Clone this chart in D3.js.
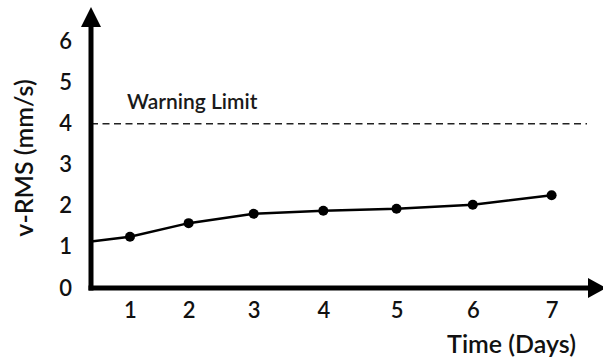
<!DOCTYPE html>
<html><head><meta charset="utf-8">
<script src="https://cdn.jsdelivr.net/npm/d3@7"></script>
<style>
html,body{margin:0;padding:0;background:#fff;}
svg{display:block;font-family:Lato,"Open Sans",sans-serif;}
</style></head>
<body>
<svg id="chart" width="603" height="360"></svg>
<script>
// ---- data ----
const days = [1, 2, 3, 4, 5, 6, 7];
const vrms = [1.25, 1.58, 1.81, 1.88, 1.93, 2.03, 2.26];
const lineStart = {day: 0.19, value: 1.13};
const yTicks = [0, 1, 2, 3, 4, 5, 6];
const warningLevel = 4;
const warningLabel = "Warning Limit";
const yLabel = "v-RMS (mm/s)";
const xLabel = "Time (Days)";

const svg = d3.select("#chart");
const axisX = 91, axisY = 288;

const x = d3.scalePow().exponent(1.2).domain([0, 7]).range([84.8, 551.6]);
const y = d3.scaleLinear().domain([0, 6]).range([288, 41.7]);

// warning line
svg.append("line")
  .attr("x1", axisX).attr("x2", 587)
  .attr("y1", y(warningLevel)).attr("y2", y(warningLevel))
  .attr("stroke", "#222").attr("stroke-width", 1.5)
  .attr("stroke-dasharray", "7,4.5");
svg.append("text").attr("x", 127).attr("y", y(warningLevel) - 15)
  .attr("font-size", 21).attr("font-weight", 600).attr("fill", "#1a1a1a")
  .text(warningLabel);

// series line
const pts = [lineStart].concat(days.map((d, i) => ({day: d, value: vrms[i]})));
svg.append("defs").append("clipPath").attr("id", "clip")
  .append("rect").attr("x", axisX).attr("y", 0).attr("width", 520).attr("height", axisY);
svg.append("path").datum(pts)
  .attr("clip-path", "url(#clip)")
  .attr("fill", "none").attr("stroke", "#000").attr("stroke-width", 2.5)
  .attr("d", d3.line().x(d => x(d.day)).y(d => y(d.value)));
svg.selectAll("circle.pt").data(days).join("circle")
  .attr("class", "pt")
  .attr("cx", d => x(d)).attr("cy", (d, i) => y(vrms[i])).attr("r", 5)
  .attr("fill", "#000");

// axes
const yAxis = d3.axisLeft(y).tickValues(yTicks).tickSize(0).tickPadding(19).tickFormat(d3.format("d"));
const gy = svg.append("g").attr("transform", `translate(${axisX},0)`).call(yAxis);
gy.select(".domain").remove();
gy.selectAll("text").attr("font-size", 22).attr("font-family", "Lato").attr("font-weight", 600).attr("fill", "#111");

const xAxis = d3.axisBottom(x).tickValues(days).tickSize(0).tickPadding(14).tickFormat(d3.format("d"));
const gx = svg.append("g").attr("transform", `translate(0,${axisY})`).call(xAxis);
gx.select(".domain").remove();
gx.selectAll("text").attr("font-size", 22).attr("font-family", "Lato").attr("font-weight", 600).attr("fill", "#111");

// axis lines with arrows
svg.append("line").attr("x1", axisX).attr("x2", axisX).attr("y1", axisY + 2.5).attr("y2", 24)
  .attr("stroke", "#000").attr("stroke-width", 5);
svg.append("path").attr("d", `M${axisX},7 L${axisX - 10},27 L${axisX + 10},27 Z`).attr("fill", "#000");
svg.append("line").attr("x1", axisX - 2.5).attr("x2", 592).attr("y1", axisY).attr("y2", axisY)
  .attr("stroke", "#000").attr("stroke-width", 5);
svg.append("path").attr("d", `M606,${axisY} L588,${axisY - 10} L588,${axisY + 10} Z`).attr("fill", "#000");

// labels
svg.append("text").attr("transform", "translate(33,158) rotate(-90)")
  .attr("text-anchor", "middle").attr("font-size", 25).attr("font-weight", 600).attr("fill", "#111")
  .text(yLabel);
svg.append("text").attr("x", 576).attr("y", 353).attr("text-anchor", "end")
  .attr("font-size", 25).attr("font-weight", 600).attr("fill", "#111")
  .text(xLabel);
</script>
</body></html>
